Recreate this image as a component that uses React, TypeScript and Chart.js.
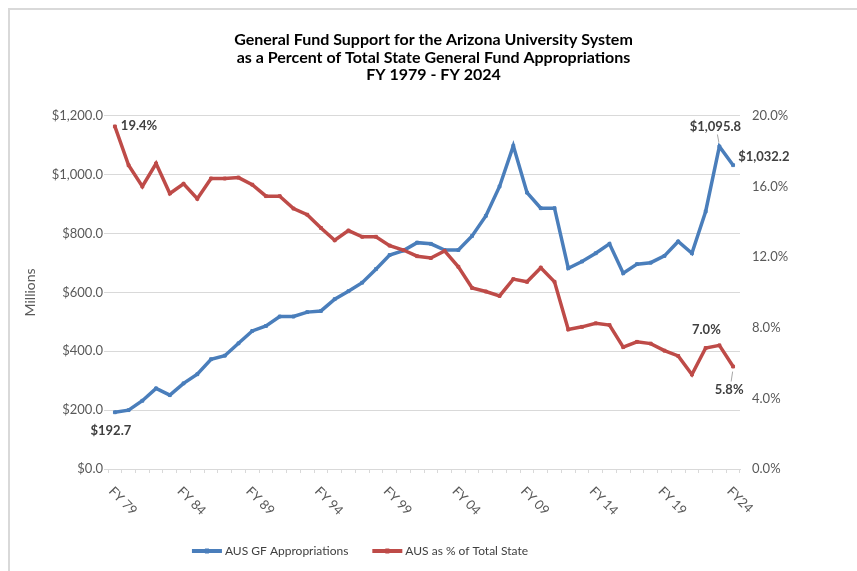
import React, { useEffect, useRef } from 'react';
import { Chart, registerables } from 'chart.js';

Chart.register(...registerables);

// ---- data ----
const categories = [
  'FY 79', 'FY 80', 'FY 81', 'FY 82', 'FY 83', 'FY 84', 'FY 85', 'FY 86', 'FY 87', 'FY 88',
  'FY 89', 'FY 90', 'FY 91', 'FY 92', 'FY 93', 'FY 94', 'FY 95', 'FY 96', 'FY 97', 'FY 98',
  'FY 99', 'FY 00', 'FY 01', 'FY 02', 'FY 03', 'FY 04', 'FY 05', 'FY 06', 'FY 07', 'FY 08',
  'FY 09', 'FY 10', 'FY 11', 'FY 12', 'FY 13', 'FY 14', 'FY 15', 'FY 16', 'FY 17', 'FY 18',
  'FY 19', 'FY 20', 'FY 21', 'FY 22', 'FY 23', 'FY24',
];

const appropriations = [
  192.7, 200, 232, 274, 251, 291, 322, 373, 385, 427,
  469, 486, 518, 518, 533, 537, 577, 604, 633, 679,
  727, 742, 769, 765, 744, 744, 792, 860, 960, 1098,
  939, 886, 886, 682, 705, 733, 765, 665, 696, 701,
  724, 773, 733, 875, 1095.8, 1032.2,
];

const percentOfState = [
  19.4, 17.2, 16.0, 17.3, 15.6, 16.15, 15.3, 16.45, 16.45, 16.5,
  16.1, 15.45, 15.45, 14.75, 14.4, 13.65, 12.95, 13.5, 13.15, 13.15,
  12.65, 12.4, 12.05, 11.95, 12.35, 11.45, 10.25, 10.05, 9.8, 10.75,
  10.6, 11.4, 10.6, 7.9, 8.05, 8.25, 8.15, 6.9, 7.2, 7.1,
  6.7, 6.4, 5.35, 6.85, 7.0, 5.8,
];

const titleLines = [
  'General Fund Support for the Arizona University System',
  'as a Percent of Total State General Fund Appropriations',
  'FY 1979 - FY 2024',
];
const seriesNames = ['AUS GF Appropriations', 'AUS as % of Total State'];
const leftAxisTitle = 'Millions';
const labelEvery = 5;
const labeledIndices = [0, 44, 45];

// ---- styles ----
const FONT = 'Lato, "Open Sans", sans-serif';
const BLUE = '#4a7ebb';
const RED = '#be4b48';
const GRID = '#d9d9d9';
const AXIS_TEXT = '#595959';
const LABEL_TEXT = '#404040';

const fmtMoney = (v: number) =>
  '$' + v.toLocaleString('en-US', { minimumFractionDigits: 1, maximumFractionDigits: 1 });
const fmtPct = (v: number) => v.toFixed(1) + '%';

// label placement relative to the point: [dx, dy, align, leader]
const blueLabelPos: Array<[number, number, CanvasTextAlign, boolean]> = [
  [-4, 19, 'center', false],
  [-4, -20, 'center', true],
  [5, -8, 'left', false],
];
const redLabelPos: Array<[number, number, CanvasTextAlign, boolean]> = [
  [6, -1, 'left', false],
  [-13, -16, 'center', false],
  [-4, 23, 'center', true],
];

const overlayPlugin = {
  id: 'overlay',
  afterDraw(chart: any) {
    const ctx: CanvasRenderingContext2D = chart.ctx;
    const xs = chart.scales.x;
    const area = chart.chartArea;

    // rotated category labels
    ctx.save();
    ctx.font = `13px ${FONT}`;
    ctx.fillStyle = AXIS_TEXT;
    ctx.textAlign = 'left';
    ctx.textBaseline = 'middle';
    categories.forEach((c, i) => {
      if (i % labelEvery !== 0) return;
      const px = xs.getPixelForValue(i);
      ctx.save();
      ctx.translate(px - 4, area.bottom + 20);
      ctx.rotate(Math.PI / 4);
      ctx.fillText(c, 0, 0);
      ctx.restore();
    });
    ctx.restore();

    // data labels
    const drawLabels = (dsIndex: number, values: number[], fmt: (v: number) => string, pos: typeof blueLabelPos) => {
      const meta = chart.getDatasetMeta(dsIndex);
      labeledIndices.forEach((idx, k) => {
        const pt = meta.data[idx];
        if (!pt) return;
        const [dx, dy, align, leader] = pos[k];
        ctx.save();
        ctx.font = `bold 13px ${FONT}`;
        ctx.fillStyle = LABEL_TEXT;
        ctx.textAlign = align;
        ctx.textBaseline = 'middle';
        ctx.fillText(fmt(values[idx]), pt.x + dx, pt.y + dy);
        if (leader) {
          ctx.strokeStyle = '#a6a6a6';
          ctx.lineWidth = 1;
          ctx.beginPath();
          const sy = dy > 0 ? pt.y + dy - 8 : pt.y + dy + 8;
          ctx.moveTo(pt.x + dx + 2, sy);
          ctx.lineTo(pt.x - 0.5, pt.y + (dy > 0 ? 5 : -4));
          ctx.stroke();
        }
        ctx.restore();
      });
    };
    drawLabels(0, appropriations, fmtMoney, blueLabelPos);
    drawLabels(1, percentOfState, fmtPct, redLabelPos);

    // legend
    ctx.save();
    ctx.font = `12px ${FONT}`;
    ctx.textBaseline = 'middle';
    ctx.textAlign = 'left';
    const colors = [BLUE, RED];
    const sw = 30;
    const gapText = 3;
    const gapItem = 24;
    const widths = seriesNames.map((n) => ctx.measureText(n).width);
    const total = widths.reduce((a, w) => a + sw + gapText + w, 0) + gapItem;
    const cy = 541;
    let x = 350 - total / 2;
    seriesNames.forEach((n, i) => {
      ctx.fillStyle = colors[i];
      ctx.fillRect(x, cy - 2, sw, 4);
      ctx.fillRect(x + sw / 2 - 2, cy - 2.5, 4, 5);
      x += sw + gapText;
      ctx.fillStyle = LABEL_TEXT;
      ctx.fillText(n, x, cy);
      x += widths[i] + gapItem;
    });
    ctx.restore();
  },
};

export default function App() {
  const ref = useRef<HTMLCanvasElement>(null);

  useEffect(() => {
    if (!ref.current) return;
    const chart = new Chart(ref.current, {
      type: 'line',
      data: {
        labels: categories,
        datasets: [
          {
            label: seriesNames[0],
            data: appropriations,
            yAxisID: 'y',
            borderColor: BLUE,
            backgroundColor: BLUE,
            borderWidth: 3.5,
            pointStyle: 'rect',
            pointRadius: 2,
            pointBackgroundColor: BLUE,
            pointBorderColor: BLUE,
            pointBorderWidth: 1,
            tension: 0,
            order: 1,
          },
          {
            label: seriesNames[1],
            data: percentOfState,
            yAxisID: 'y1',
            borderColor: RED,
            backgroundColor: RED,
            borderWidth: 3.5,
            pointStyle: 'rect',
            pointRadius: 2,
            pointBackgroundColor: RED,
            pointBorderColor: RED,
            pointBorderWidth: 1,
            tension: 0,
            order: 0,
          },
        ],
      },
      options: {
        responsive: false,
        animation: false,
        layout: { padding: { left: 0, right: 0, top: 0, bottom: 0 } },
        plugins: {
          legend: { display: false },
          tooltip: { enabled: false },
          title: {
            display: true,
            text: titleLines,
            color: '#000',
            font: { family: FONT, size: 16, weight: 'bold', lineHeight: 1.1 },
            padding: { top: 21, bottom: 32 },
          },
        },
        scales: {
          x: {
            type: 'category',
            offset: true,
            grid: {
              display: true,
              drawOnChartArea: false,
              drawTicks: true,
              tickLength: 4,
              color: GRID,
              offset: true,
            },
            border: { display: true, color: GRID },
            ticks: { display: false },
            afterFit: (s: any) => {
              s.height = 102;
            },
          },
          y: {
            position: 'left',
            min: 0,
            max: 1200,
            ticks: {
              stepSize: 200,
              color: AXIS_TEXT,
              font: { family: FONT, size: 13 },
              padding: 1,
              callback: (v: any) => fmtMoney(Number(v)),
            },
            grid: { color: GRID, tickLength: 4 },
            border: { display: false },
            title: {
              display: true,
              text: leftAxisTitle,
              color: AXIS_TEXT,
              font: { family: FONT, size: 14 },
              padding: { top: 12, bottom: 0 },
            },
            afterFit: (s: any) => {
              s.width = 98;
            },
          },
          y1: {
            position: 'right',
            min: 0,
            max: 20,
            ticks: {
              stepSize: 4,
              color: AXIS_TEXT,
              font: { family: FONT, size: 13 },
              padding: 12,
              callback: (v: any) => fmtPct(Number(v)),
            },
            grid: { display: false, drawTicks: false, tickLength: 0 },
            border: { display: false },
            afterFit: (s: any) => {
              s.width = 117;
            },
          },
        },
      },
      plugins: [overlayPlugin],
    } as any);
    return () => chart.destroy();
  }, []);

  return (
    <div
      style={{
        position: 'fixed',
        left: 8,
        top: 8,
        width: 849,
        height: 563,
        borderTop: '2px solid #d9d9d9',
        borderLeft: '2px solid #d9d9d9',
        boxSizing: 'border-box',
        background: '#fff',
        overflow: 'hidden',
      }}
    >
      <canvas ref={ref} width={847} height={561} style={{ display: 'block', width: 847, height: 561 }} />
    </div>
  );
}
